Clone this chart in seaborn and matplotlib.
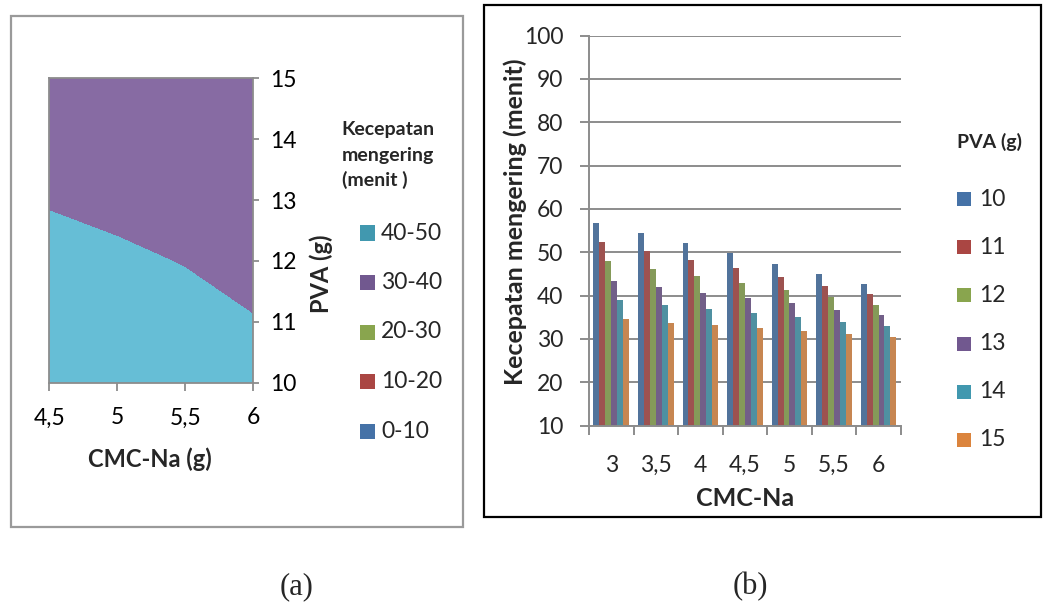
import numpy as np
import pandas as pd
import matplotlib
matplotlib.use("Agg")
import matplotlib.pyplot as plt
import seaborn as sns
from matplotlib.patches import Rectangle
from matplotlib.ticker import FixedLocator

# ---------------- data ----------------
cmc_labels = ["3", "3,5", "4", "4,5", "5", "5,5", "6"]
cmc_values = [3.0, 3.5, 4.0, 4.5, 5.0, 5.5, 6.0]
pva_levels = [10, 11, 12, 13, 14, 15]
# drying time (menit) for each PVA level across CMC-Na
pva10 = [56.8, 54.5, 52.1, 49.8, 47.4, 45.0, 42.7]
pva11 = [52.4, 50.4, 48.3, 46.3, 44.3, 42.3, 40.3]
pva12 = [48.0, 46.2, 44.6, 42.8, 41.2, 39.7, 37.8]
pva13 = [43.4, 42.0, 40.7, 39.4, 38.2, 36.8, 35.5]
pva14 = [39.0, 37.9, 36.9, 36.0, 35.1, 34.0, 33.0]
pva15 = [34.5, 33.8, 33.2, 32.5, 31.9, 31.2, 30.5]
series = [pva10, pva11, pva12, pva13, pva14, pva15]

range_labels = ["40-50", "30-40", "20-30", "10-20", "0-10"]
range_levels = [0, 10, 20, 30, 40, 50]
contour_cmc = cmc_values[3:]          # 4.5 .. 6
contour_xticklabels = cmc_labels[3:]

# ---------------- style ----------------
sns.set_theme(style="white")
plt.rcParams["font.family"] = ["Lato", "DejaVu Sans"]

bar_colors = ["#4572A7", "#AA4643", "#89A54E", "#71588F", "#4198AF", "#DB843D"]
legend_a_colors = ["#4198AF", "#71588F", "#89A54E", "#AA4643", "#4572A7"]
fill_colors = ["#5A86C0", "#C05A57", "#9BB862", "#876BA3", "#66BED6"]  # 0-10 .. 40-50
GRAY = "#8C8C8C"
TICK_FS = 16.5
TITLE_FS = 18
LEG_TITLE_FS = 14

W, H = 1043, 605
fig = plt.figure(figsize=(W / 100, H / 100), dpi=100)
PX = 72 / 100  # points per pixel


def fx(px):
    return px / W


def fy(py):
    return 1 - py / H


# outer boxes
fig.add_artist(Rectangle((fx(11), fy(526.5)), (462.7 - 11) / W, (526.5 - 15.5) / H,
                         transform=fig.transFigure, fill=False, edgecolor="#9A9A9A", lw=1.6))
fig.add_artist(Rectangle((fx(484), fy(516.7)), (1040.5 - 484) / W, (516.7 - 5) / H,
                         transform=fig.transFigure, fill=False, edgecolor="black", lw=1.6))

# ---------------- panel (a): contour ----------------
ax_a = fig.add_axes([fx(49.3), fy(382.7), (253.3 - 49.3) / W, (382.7 - 78.3) / H])
Z = np.array([row[3:] for row in series])
ax_a.contourf(contour_cmc, pva_levels, Z, levels=range_levels, colors=fill_colors)
ax_a.set_xlim(4.5, 6)
ax_a.set_ylim(10, 15)
ax_a.set_xticks(contour_cmc)
ax_a.set_xticklabels(contour_xticklabels)
ax_a.set_yticks(pva_levels)
ax_a.yaxis.tick_right()
for s in ax_a.spines.values():
    s.set_color(GRAY)
    s.set_linewidth(1.3)
ax_a.tick_params(axis="x", bottom=True, length=8 * PX, width=1.3, color=GRAY,
                 labelsize=TICK_FS, pad=12, labelcolor="black")
ax_a.tick_params(axis="y", right=True, left=False, length=6 * PX, width=1.3, color=GRAY,
                 labelsize=TICK_FS, pad=8, labelcolor="black")
xl = ax_a.set_xlabel("CMC-Na (g)", fontsize=17, fontweight="bold")
ax_a.xaxis.set_label_coords((150 - 49.3) / 204, (382.7 - 459) / 304.4)
xl.set_va("center")
yl = ax_a.set_ylabel("PVA (g)", fontsize=17, fontweight="bold", rotation=90)
ax_a.yaxis.set_label_position("right")
ax_a.yaxis.set_label_coords((321.7 - 49.3) / 204, (382.7 - 273.6) / 304.4)
yl.set_va("center")
yl.set_rotation(90)

# legend (a)
for i, line in enumerate(["Kecepatan", "mengering", "(menit )"]):
    fig.text(fx(341.7), fy(130 + 25 * i), line, fontsize=LEG_TITLE_FS, fontweight="bold",
             ha="left", va="center")
for i, (lab, col) in enumerate(zip(range_labels, legend_a_colors)):
    yc = 233 + 49.5 * i
    fig.add_artist(Rectangle((fx(360), fy(yc + 7.5)), 15 / W, 15 / H,
                             transform=fig.transFigure, facecolor=col, edgecolor="none"))
    fig.text(fx(381), fy(yc), lab, fontsize=TICK_FS, ha="left", va="center")

# ---------------- panel (b): grouped bars ----------------
df = pd.DataFrame({
    "CMC-Na": np.tile(cmc_labels, len(pva_levels)),
    "PVA": np.repeat([str(p) for p in pva_levels], len(cmc_labels)),
    "menit": np.concatenate(series),
})
ax_b = fig.add_axes([fx(589), fy(425.7), (900.8 - 589) / W, (425.7 - 35.5) / H])
sns.barplot(data=df, x="CMC-Na", y="menit", hue="PVA", order=cmc_labels,
            hue_order=[str(p) for p in pva_levels], palette=bar_colors,
            width=0.8, linewidth=0, legend=False, ax=ax_b, errorbar=None)
ax_b.set_ylim(10, 100)
ax_b.set_xlim(-0.5, len(cmc_labels) - 0.5)
ax_b.set_yticks(range(10, 101, 10))
ax_b.yaxis.grid(True, color=GRAY, linewidth=1.4)
ax_b.set_axisbelow(True)
for side in ["top", "right"]:
    ax_b.spines[side].set_visible(False)
for side in ["left", "bottom"]:
    ax_b.spines[side].set_color(GRAY)
    ax_b.spines[side].set_linewidth(1.4)
ax_b.xaxis.set_minor_locator(FixedLocator(np.arange(-0.5, len(cmc_labels), 1.0)))
ax_b.tick_params(axis="x", which="major", length=0, pad=21, labelsize=TICK_FS)
ax_b.tick_params(axis="x", which="minor", bottom=True, length=9 * PX, width=1.4, color=GRAY)
ax_b.tick_params(axis="y", left=True, length=9 * PX, width=1.4, color=GRAY, pad=12,
                 labelsize=TICK_FS)
xl_b = ax_b.set_xlabel("CMC-Na", fontsize=TITLE_FS, fontweight="bold")
ax_b.xaxis.set_label_coords(0.5, (425.7 - 499) / 390.2)
xl_b.set_va("center")
yl_b = ax_b.set_ylabel("Kecepatan mengering (menit)", fontsize=TITLE_FS, fontweight="bold")
ax_b.yaxis.set_label_coords((515 - 589) / 311.8, (425.7 - 222) / 390.2)
yl_b.set_va("center")

# legend (b)
fig.text(fx(956.8), fy(141.7), "PVA (g)", fontsize=LEG_TITLE_FS, fontweight="bold",
         ha="left", va="center")
for i, (p, col) in enumerate(zip(pva_levels, bar_colors)):
    yc = 199 + 48.2 * i
    fig.add_artist(Rectangle((fx(956.8), fy(yc + 7)), 14.4 / W, 14 / H,
                             transform=fig.transFigure, facecolor=col, edgecolor="none"))
    fig.text(fx(979), fy(yc), str(p), fontsize=TICK_FS, ha="left", va="center")

# captions
fig.text(fx(297), fy(587), "(a)", fontsize=22, family="Liberation Serif",
         ha="center", va="center")
fig.text(fx(750), fy(587), "(b)", fontsize=22, family="Liberation Serif",
         ha="center", va="center")

fig.savefig("out.png", dpi=100)
